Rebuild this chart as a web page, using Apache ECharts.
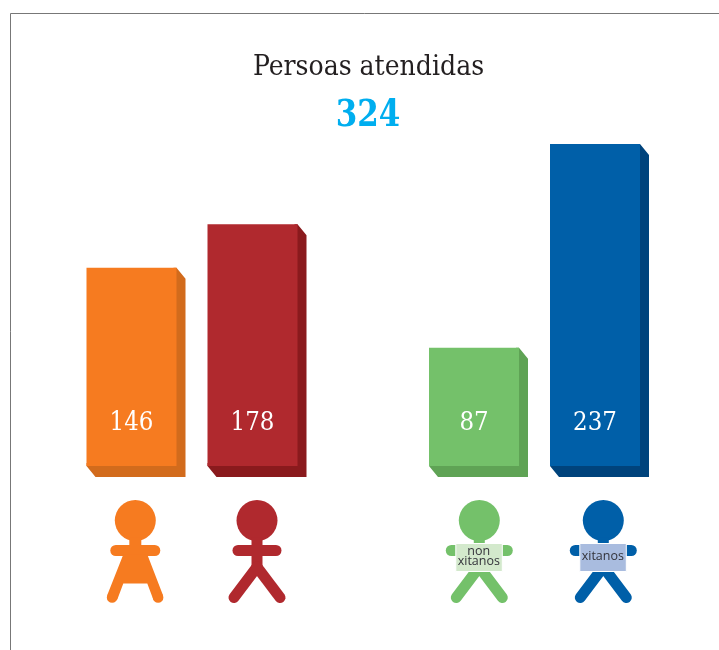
<!DOCTYPE html>
<html><head><meta charset="utf-8">
<style>html,body{margin:0;padding:0;background:#fff}#c{width:719px;height:650px}</style>
<script src="https://cdn.jsdelivr.net/npm/echarts@6/dist/echarts.min.js"></script>
</head><body><div id="c"></div>
<script>
const titleText = 'Persoas atendidas';
const totalText = '324';
const sexCategories = ['Mulleres', 'Homes'];
const sexValues = [146, 178];
const ethnicCategories = ['non xitanos', 'xitanos'];
const ethnicValues = [87, 237];
const sexFront = ['#F67B20', '#B0292E'];
const sexSide = ['#D26B1C', '#8A1A1D'];
const ethnicFront = ['#74C16A', '#005FA8'];
const ethnicSide = ['#5FA355', '#00437C'];

const serif = '"DejaVu Serif Condensed","DejaVu Serif",serif';
const DX = 9, DY = 11, BARW = 90;

function render3D(front, side) {
  return function (params, api) {
    const i = api.value(0), v = api.value(1);
    const top = api.coord([i, v]), base = api.coord([i, 0]);
    const cx = top[0], l = cx - BARW / 2, r = cx + BARW / 2;
    return {
      type: 'group',
      children: [
        { type: 'polygon', shape: { points: [[r - 3, top[1]], [r, top[1]], [r + DX, top[1] + DY], [r + DX, base[1] + DY], [l + DX, base[1] + DY], [l, base[1]], [l, base[1] - 3], [r - 3, base[1] - 3]] }, style: { fill: side[i] } },
        { type: 'rect', shape: { x: l, y: top[1], width: BARW, height: base[1] - top[1] }, style: { fill: front[i] } },
        { type: 'text', x: cx, y: base[1] - 43, style: { text: String(v), fill: '#fff', font: '25.5px ' + serif, align: 'center', verticalAlign: 'middle' } }
      ]
    };
  };
}

function line(x1, y1, x2, y2, w, c) {
  return { type: 'line', shape: { x1, y1, x2, y2 }, style: { stroke: c, lineWidth: w, lineCap: 'round' } };
}
function head(c) { return { type: 'circle', shape: { cx: 0, cy: 0, r: 20.5 }, style: { fill: c } }; }

function woman(x, c) {
  return { type: 'group', x, y: 520.5, children: [
    head(c),
    { type: 'rect', shape: { x: -6, y: 17, width: 12, height: 10 }, style: { fill: c } },
    line(-19.5, 30, 19.5, 30, 11, c),
    { type: 'polygon', shape: { points: [[-12, 34], [12, 34], [27.8, 75], [18, 79], [12, 63], [-12, 63], [-18, 79], [-28.2, 75]] }, style: { fill: c } },
    { type: 'circle', shape: { cx: -23.2, cy: 77, r: 5.3 }, style: { fill: c } },
    { type: 'circle', shape: { cx: 22.8, cy: 77, r: 5.3 }, style: { fill: c } }
  ] };
}
function man(x, c) {
  return { type: 'group', x, y: 520.5, children: [
    head(c),
    { type: 'rect', shape: { x: -5.5, y: 17, width: 11, height: 30 }, style: { fill: c } },
    line(-19, 30, 19, 30, 11, c),
    line(0, 46.5, -23, 77, 11, c),
    line(0, 46.5, 23, 77, 11, c)
  ] };
}
function sign(x, c, sc, labels) {
  const ys = labels.length === 2 ? [31, 41] : [36];
  return { type: 'group', x, y: 520.5, children: [
    head(c),
    { type: 'rect', shape: { x: -5.5, y: 17, width: 11, height: 12 }, style: { fill: c } },
    line(-28, 30, 28, 30, 11, c),
    line(0, 46.5, -23, 77, 11, c),
    line(0, 46.5, 23, 77, 11, c),
    { type: 'rect', shape: { x: -23.5, y: 23, width: 46.5, height: 28 }, style: { fill: sc, stroke: '#fff', lineWidth: 1 } }
  ].concat(labels.map((t, i) => ({
    type: 'text', x: -0.5, y: ys[i],
    style: { text: t, fill: '#33333a', font: '12.5px "Open Sans",sans-serif', align: 'center', verticalAlign: 'middle' }
  }))) };
}

const chart = echarts.init(document.getElementById('c'), null, { renderer: 'canvas' });
const valueAxis = gi => ({ gridIndex: gi, type: 'value', min: 0, max: 237, show: false });
const catAxis = (gi, data) => ({ gridIndex: gi, type: 'category', data, show: false, boundaryGap: true });
chart.setOption({
  animation: false,
  backgroundColor: '#fff',
  grid: [
    { left: 71, width: 242, top: 144, height: 322 },
    { left: 413.5, width: 242, top: 144, height: 322 }
  ],
  xAxis: [catAxis(0, sexCategories), catAxis(1, ethnicCategories)],
  yAxis: [valueAxis(0), valueAxis(1)],
  series: [
    { type: 'custom', xAxisIndex: 0, yAxisIndex: 0, clip: false, renderItem: render3D(sexFront, sexSide), encode: { x: 0, y: 1 }, data: sexValues.map((v, i) => [i, v]) },
    { type: 'custom', xAxisIndex: 1, yAxisIndex: 1, clip: false, renderItem: render3D(ethnicFront, ethnicSide), encode: { x: 0, y: 1 }, data: ethnicValues.map((v, i) => [i, v]) }
  ],
  graphic: [
    { type: 'line', shape: { x1: 10.5, y1: 650, x2: 10.5, y2: 13.5 }, style: { stroke: '#777', lineWidth: 1 } },
    { type: 'line', shape: { x1: 10.5, y1: 13.5, x2: 719, y2: 13.5 }, style: { stroke: '#777', lineWidth: 1 } },
    { type: 'text', x: 368.5, y: 68, style: { text: titleText, fill: '#231F20', font: '28px ' + serif, align: 'center', verticalAlign: 'middle' } },
    { type: 'text', x: 368, y: 116, scaleX: 0.93, style: { text: totalText, fill: '#00AEEF', font: 'bold 37px ' + serif, align: 'center', verticalAlign: 'middle' } },
    woman(135.3, sexFront[0]),
    man(257, sexFront[1]),
    sign(479.3, ethnicFront[0], '#D3E9CC', ['non', 'xitanos']),
    sign(603.3, ethnicFront[1], '#A9BCDF', ['xitanos'])
  ]
});
</script></body></html>
